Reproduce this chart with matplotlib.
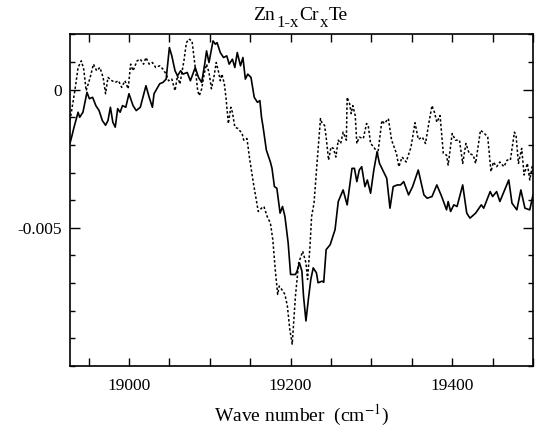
import numpy as np
import matplotlib
matplotlib.use("Agg")
import matplotlib.pyplot as plt
from matplotlib.ticker import MultipleLocator, FixedLocator

plt.rcParams['font.family'] = ['Liberation Serif', 'DejaVu Serif']
plt.rcParams['mathtext.fontset'] = 'stix'

title_parts = [("Zn", False), ("1-x", True), ("Cr", False), ("x", True), ("Te", False)]
xlabel = r"Wave number  (cm$^{\mathrm{-1}}$)"
x_ticks = [19000, 19200, 19400]
y_ticks = [0, -0.005]
y_tick_labels = ["0", "-0.005"]

solid_x = [18927, 18929, 18932, 18937, 18939, 18943, 18948, 18951, 18955, 18959,
           18963, 18967, 18971, 18974, 18977, 18980, 18983, 18986, 18989, 18992,
           18996, 19000, 19005, 19009, 19014, 19021, 19025, 19029, 19031, 19038,
           19042, 19046, 19050, 19053, 19057, 19060, 19064, 19067, 19072, 19076,
           19082, 19086, 19090, 19094, 19096, 19099, 19104, 19107, 19109, 19113,
           19117, 19121, 19124, 19128, 19131, 19134, 19138, 19141, 19144, 19147,
           19151, 19155, 19159, 19162, 19164, 19166, 19170, 19175, 19177, 19180,
           19183, 19187, 19190, 19193, 19197, 19200, 19206, 19208, 19211, 19214,
           19216, 19219, 19222, 19225, 19228, 19232, 19234, 19239, 19241, 19244,
           19249, 19255, 19259, 19265, 19270, 19276, 19279, 19282, 19285, 19288,
           19292, 19295, 19299, 19303, 19307, 19310, 19315, 19319, 19323, 19327,
           19332, 19336, 19340, 19346, 19351, 19358, 19365, 19369, 19375, 19381,
           19387, 19393, 19395, 19398, 19402, 19406, 19413, 19418, 19422, 19429,
           19436, 19439, 19447, 19450, 19455, 19459, 19470, 19474, 19480, 19485,
           19490, 19496, 19500]
solid_y = [-1.94, -1.72, -1.36, -0.82, -1.00, -0.82, -0.10, -0.33, -0.28, -0.58,
           -0.76, -1.12, -1.29, -1.12, -0.64, -1.18, -1.36, -0.69, -0.82, -0.58,
           -0.64, -0.15, -0.58, -0.76, -0.64, 0.14, -0.28, -0.64, -0.15, 0.21,
           0.26, 0.38, 1.52, 1.22, 0.68, 0.50, 0.68, 0.56, 0.62, 0.32,
           0.80, 0.44, 0.26, 0.98, 1.40, 0.98, 1.76, 1.64, 1.70, 1.34,
           1.16, 1.22, 0.92, 1.10, 0.80, 1.34, 0.86, 1.16, 0.38, 0.56,
           0.44, -0.28, -0.46, -0.40, -1.00, -1.36, -2.19, -2.62, -2.85, -3.51,
           -3.57, -4.47, -4.23, -4.59, -5.55, -6.69, -6.69, -6.57, -6.27, -6.57,
           -7.47, -8.37, -7.59, -6.87, -6.45, -6.63, -6.99, -6.93, -6.97, -5.79,
           -5.61, -5.07, -4.05, -3.63, -4.17, -2.85, -2.85, -3.33, -2.91, -2.79,
           -3.51, -3.27, -3.75, -2.91, -2.26, -2.67, -2.97, -3.21, -4.29, -3.51,
           -3.45, -3.45, -3.33, -3.81, -3.51, -2.91, -3.81, -3.93, -3.87, -3.45,
           -3.87, -4.35, -4.05, -4.41, -4.17, -4.23, -3.45, -4.47, -4.65, -4.47,
           -4.17, -4.29, -3.69, -3.87, -3.69, -4.05, -3.27, -4.11, -4.35, -3.63,
           -4.29, -4.35, -3.81]

dotted_x = [18927, 18933, 18937, 18941, 18944, 18947, 18952, 18956, 18960, 18964,
            18968, 18971, 18974, 18979, 18983, 18987, 18991, 18995, 18999, 19002,
            19005, 19010, 19014, 19018, 19021, 19025, 19029, 19033, 19038, 19042,
            19046, 19049, 19053, 19057, 19060, 19063, 19068, 19071, 19074, 19078,
            19082, 19085, 19087, 19090, 19093, 19096, 19099, 19102, 19105, 19108,
            19111, 19113, 19115, 19118, 19120, 19123, 19126, 19128, 19131, 19135,
            19140, 19142, 19146, 19149, 19154, 19160, 19164, 19167, 19171, 19175,
            19178, 19181, 19184, 19186, 19189, 19193, 19196, 19199, 19202, 19206,
            19210, 19215, 19219, 19221, 19224, 19226, 19229, 19233, 19237, 19239,
            19242, 19244, 19247, 19250, 19253, 19256, 19259, 19262, 19265, 19269,
            19270, 19273, 19275, 19277, 19280, 19282, 19285, 19290, 19294, 19296,
            19299, 19303, 19308, 19313, 19316, 19321, 19325, 19331, 19334, 19338,
            19343, 19349, 19354, 19358, 19363, 19367, 19371, 19375, 19378, 19381,
            19385, 19389, 19393, 19395, 19400, 19404, 19409, 19413, 19417, 19421,
            19426, 19429, 19435, 19440, 19444, 19448, 19451, 19455, 19459, 19464,
            19468, 19472, 19477, 19479, 19482, 19486, 19489, 19493, 19496, 19499,
            19500]
dotted_y = [-1.12, -0.04, 0.80, 1.04, 0.74, -0.04, 0.44, 0.92, 0.68, 0.80,
            0.44, -0.15, 0.44, 0.32, 0.26, 0.32, 0.08, 0.32, 0.03, 0.92,
            0.68, 1.04, 1.10, 0.92, 1.16, 0.92, 0.98, 0.80, 0.86, 0.74,
            0.56, 0.32, 0.38, -0.04, 0.50, 0.20, 1.04, 1.69, 1.83, 1.76,
            0.80, -0.04, -0.22, 0.03, 0.56, 0.92, 0.62, 0.03, 0.44, 0.98,
            0.62, 0.32, 0.56, 0.21, -0.28, -1.23, -0.64, -0.82, -1.36, -1.41,
            -1.59, -1.83, -1.77, -2.44, -3.39, -4.41, -4.29, -4.23, -4.59, -4.83,
            -5.43, -6.51, -7.41, -7.11, -7.23, -7.41, -7.83, -8.67, -9.21, -7.47,
            -6.27, -5.85, -6.27, -6.87, -5.67, -4.59, -4.11, -2.55, -1.05, -1.23,
            -1.29, -1.72, -2.55, -2.08, -2.13, -2.44, -1.83, -1.95, -1.54, -1.83,
            -0.28, -0.51, -0.87, -0.58, -0.94, -1.95, -1.72, -1.77, -1.23, -1.29,
            -1.95, -2.08, -2.31, -1.12, -1.23, -1.05, -1.83, -2.31, -2.79, -2.44,
            -2.62, -2.08, -1.20, -1.80, -1.72, -1.95, -1.23, -0.58, -0.82, -1.18,
            -0.94, -2.31, -2.37, -2.73, -1.59, -1.83, -1.83, -2.67, -1.95, -2.31,
            -2.37, -2.67, -1.47, -1.59, -1.72, -2.97, -2.62, -2.79, -2.62, -2.79,
            -2.55, -2.55, -1.54, -1.65, -2.67, -2.13, -3.09, -2.67, -3.27, -2.79,
            -3.02]

solid_y = np.array(solid_y) * 1e-3
dotted_y = np.array(dotted_y) * 1e-3

fig = plt.figure(figsize=(5.4, 4.3), dpi=100)
ax = fig.add_axes([70/540, 1 - 366/430, 463/540, (366 - 34.3)/430])

ax.plot(dotted_x, dotted_y, color='black', lw=1.1, linestyle=(0, (1.6, 1.4)))
ax.plot(solid_x, solid_y, color='black', lw=1.2)

ax.set_xlim(18927, 19500)
ax.set_ylim(-0.01, 0.002)

ax.xaxis.set_major_locator(FixedLocator(x_ticks))
ax.xaxis.set_minor_locator(MultipleLocator(50))
ax.yaxis.set_major_locator(FixedLocator(y_ticks))
ax.set_yticklabels(y_tick_labels)
ax.yaxis.set_minor_locator(MultipleLocator(0.001))

ax.tick_params(which='both', direction='in', top=True, right=True,
               labelsize=12.5, width=1.0)
ax.tick_params(axis='x', which='both', length=6, pad=9)
ax.tick_params(axis='y', which='major', length=7, pad=6)
ax.tick_params(axis='y', which='minor', length=3.5)
for s in ax.spines.values():
    s.set_linewidth(1.2)

ax.set_xlabel(xlabel, fontsize=14, labelpad=6)

# Title built from pieces with large, lowered subscripts
renderer = fig.canvas.get_renderer()
main_fs, sub_fs = 14, 12
base_y_px = 430 - 20.5   # baseline in pixels from bottom
sub_drop = 6.5
gap_sub = 1.5
texts = []
x_cursor = 0.0
for txt, is_sub in title_parts:
    fs = sub_fs if is_sub else main_fs
    if is_sub:
        x_cursor += gap_sub
    t = fig.text(0, 0, txt, fontsize=fs, ha='left', va='baseline',
                 transform=None)
    w = t.get_window_extent(renderer).width
    texts.append((t, x_cursor, is_sub))
    x_cursor += w
total = x_cursor
center_px = 70 + 463 / 2 - 1
start = center_px - total / 2
for t, xo, is_sub in texts:
    t.set_position((start + xo, base_y_px - (sub_drop if is_sub else 0)))

fig.savefig("out.png", dpi=100)
